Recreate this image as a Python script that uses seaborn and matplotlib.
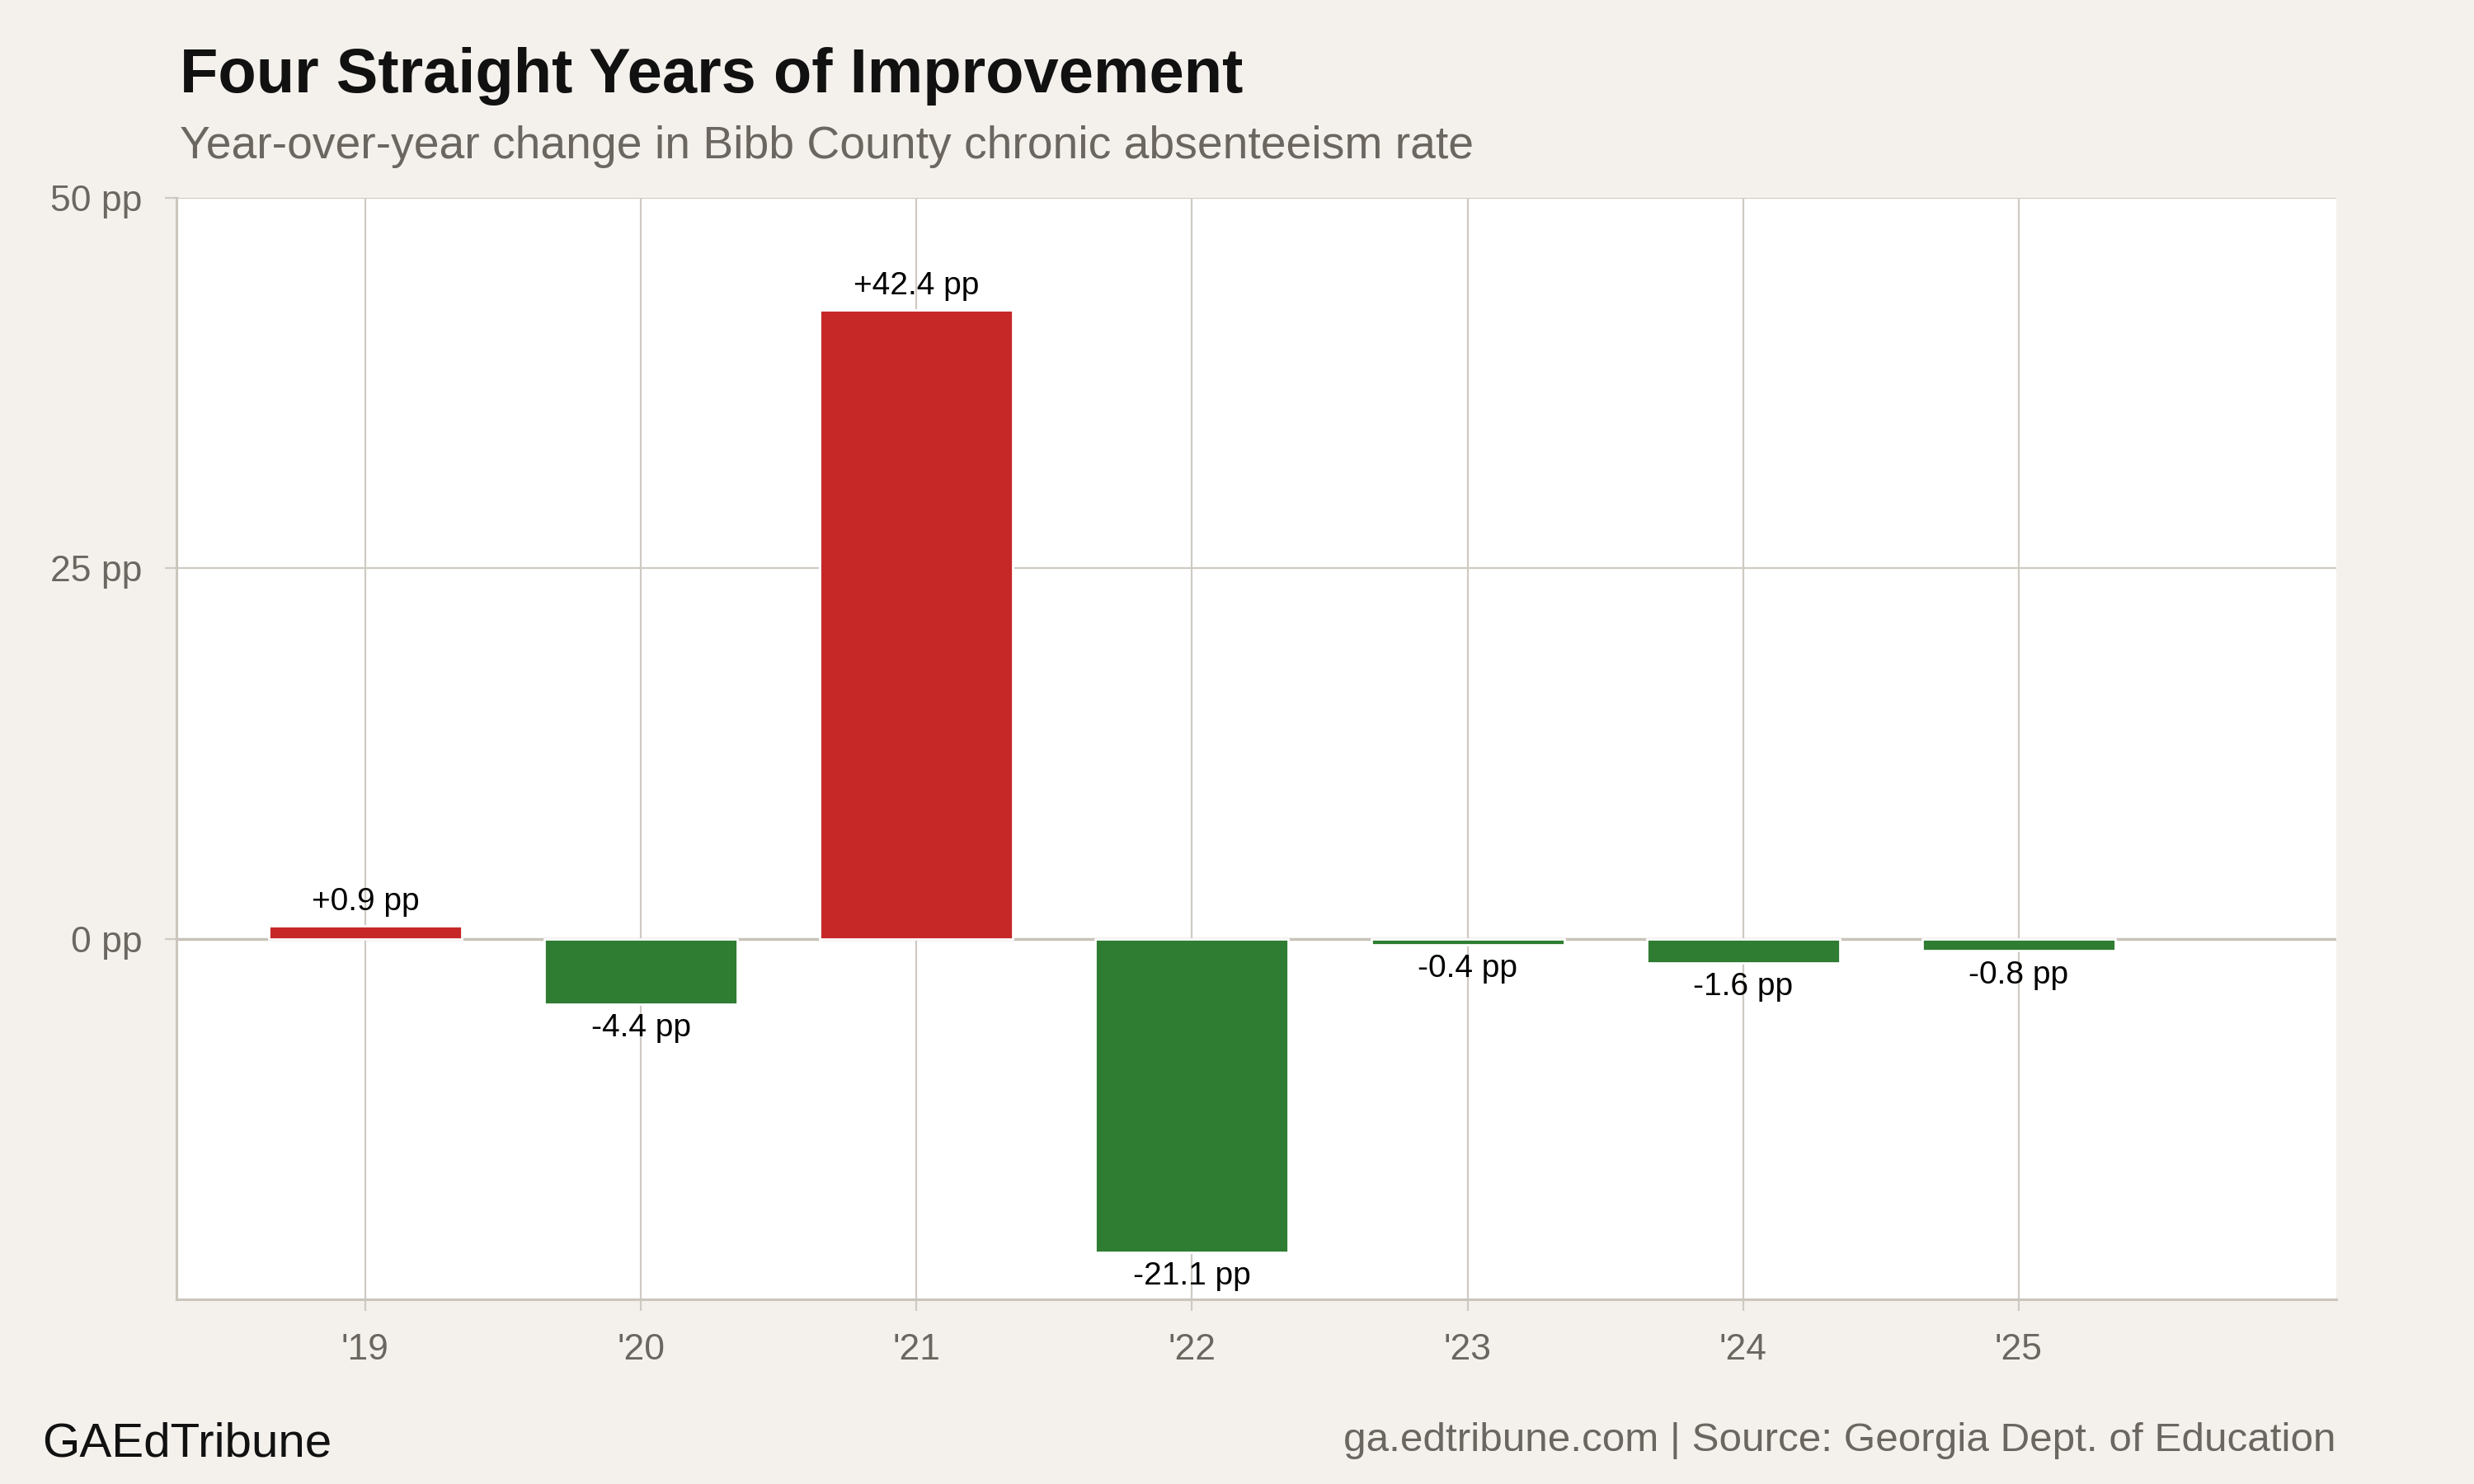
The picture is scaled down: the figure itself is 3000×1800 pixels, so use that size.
import matplotlib
matplotlib.use("Agg")
import matplotlib.pyplot as plt
import seaborn as sns
import pandas as pd

# ---- data ----
years = ["'19", "'20", "'21", "'22", "'23", "'24", "'25"]
changes = [0.9, -4.4, 42.4, -21.1, -0.4, -1.6, -0.8]
y_ticks = [0, 25, 50]
y_tick_labels = ["0 pp", "25 pp", "50 pp"]

RED = "#C62828"
GREEN = "#2E7D32"
BG = "#F4F1EC"
GRID = "#CFCAC2"
GRAY_TXT = "#6B6660"

df = pd.DataFrame({"year": years, "change": changes})
palette = {y: (RED if v > 0 else GREEN) for y, v in zip(years, changes)}

sns.set_theme(style="white")
plt.rcParams["font.family"] = ["Liberation Sans", "DejaVu Sans"]

fig = plt.figure(figsize=(15, 9), dpi=200, facecolor=BG)
ax = fig.add_axes([0.0713, 0.1246, 0.9443 - 0.0713, 0.8669 - 0.1246])
ax.set_facecolor("white")

sns.barplot(data=df, x="year", y="change", hue="year", palette=palette,
            legend=False, width=0.7, saturation=1, ax=ax, zorder=3)

ax.set_xlim(-0.685, 7.152)
ax.set_ylim(-24.27, 50)
ax.set_yticks(y_ticks)
ax.set_yticklabels(y_tick_labels)

ax.grid(True, color=GRID, linewidth=0.8, zorder=0)
ax.set_axisbelow(True)
ax.axhline(0, color="#C8C2B8", linewidth=1.2, zorder=2)

for s in ["top", "right"]:
    ax.spines[s].set_visible(False)
for s in ["left", "bottom"]:
    ax.spines[s].set_color("#CBC6BD")
    ax.spines[s].set_linewidth(1.1)

ax.tick_params(axis="both", which="both", length=5, width=0.8, color=GRID,
               labelsize=16, labelcolor=GRAY_TXT, pad=10, left=True, bottom=True)
ax.set_xlabel("")
ax.set_ylabel("")

for container in ax.containers:
    labs = []
    for bar in container:
        v = bar.get_height()
        labs.append(f"{v:+.1f} pp")
    ax.bar_label(container, labels=labs, padding=4, fontsize=14, color="black")

fig.text(0.0727, 0.9378, "Four Straight Years of Improvement", fontsize=27.3,
         fontweight="bold", color="#111111", va="baseline", ha="left")
fig.text(0.0727, 0.8933, "Year-over-year change in Bibb County chronic absenteeism rate",
         fontsize=19.9, color=GRAY_TXT, va="baseline", ha="left")
fig.text(0.0172, 0.0185, "GAEdTribune", fontsize=21, color="#111111",
         va="baseline", ha="left")
fig.text(0.9443, 0.0222, "ga.edtribune.com | Source: Georgia Dept. of Education",
         fontsize=17.8, color=GRAY_TXT, va="baseline", ha="right")

fig.savefig("out.png", dpi=200, facecolor=BG)
